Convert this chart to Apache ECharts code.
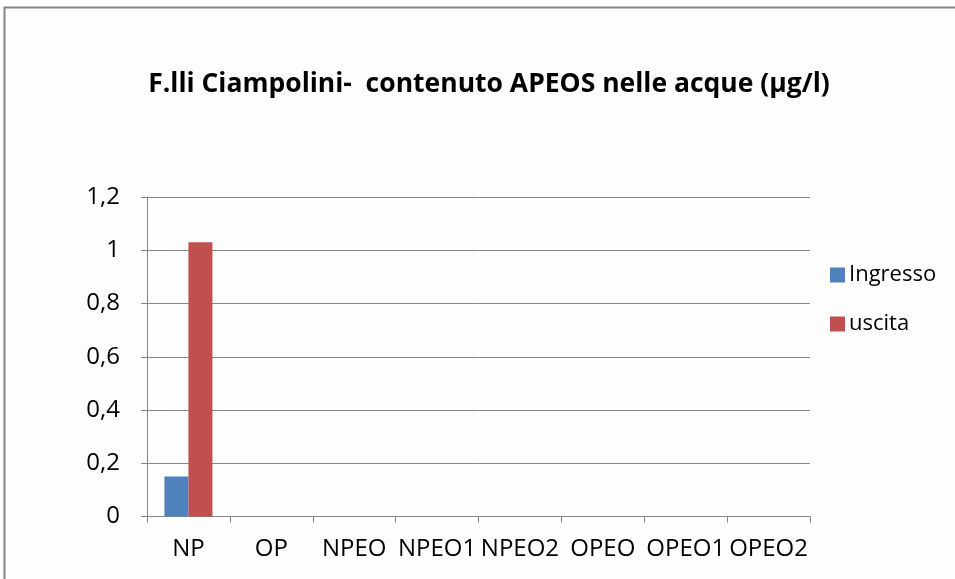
<!DOCTYPE html>
<html><head><meta charset="utf-8">
<script src="https://cdn.jsdelivr.net/npm/echarts@6/dist/echarts.min.js"></script>
<style>html,body{margin:0;padding:0;background:#fff}#c{width:955px;height:579px}</style>
</head><body><div id="c"></div>
<script>
const categories = ['NP','OP','NPEO','NPEO1','NPEO2','OPEO','OPEO1','OPEO2'];
const ingresso = [0.15, 0, 0, 0, 0, 0, 0, 0];
const uscita = [1.03, 0, 0, 0, 0, 0, 0, 0];
const yTicks = [0, 0.2, 0.4, 0.6, 0.8, 1, 1.2];

const chart = echarts.init(document.getElementById('c'));
const font = '"Open Sans", sans-serif';
chart.setOption({
  animation: false,
  backgroundColor: '#fdfdfd',
  textStyle: {fontFamily: font},
  title: {
    text: 'F.lli Ciampolini-  contenuto APEOS nelle acque (\u00b5g/l)',
    left: 484, top: 66, textAlign: 'center',
    textStyle: {fontFamily: font, fontSize: 26.5, fontWeight: 'bold', color: '#000'}
  },
  graphic: [{
    type: 'rect', shape: {x: 4.5, y: 7.5, width: 960, height: 590},
    style: {fill: 'none', stroke: '#868686', lineWidth: 2}, silent: true
  }],
  legend: {
    orient: 'vertical', left: 825, top: 259, itemGap: 27,
    itemWidth: 15, itemHeight: 15, icon: 'rect',
    textStyle: {fontFamily: font, fontSize: 22, color: '#000', padding: [0,0,0,-1]},
    data: ['Ingresso', 'uscita']
  },
  grid: {left: 147, top: 197, width: 663, height: 319.5, containLabel: false},
  xAxis: {
    type: 'category', data: categories,
    axisLine: {lineStyle: {color: '#868686'}},
    axisTick: {show: true, length: 6, lineStyle: {color: '#868686'}},
    axisLabel: {fontFamily: font, fontSize: 24, color: '#000', margin: 21, interval: 0}
  },
  yAxis: {
    type: 'value', min: 0, max: 1.2, interval: 0.2,
    axisLine: {show: true, lineStyle: {color: '#868686'}},
    axisTick: {show: true, length: 6, inside: false, lineStyle: {color: '#868686'}},
    splitLine: {lineStyle: {color: '#868686'}},
    axisLabel: {fontFamily: font, fontSize: 24, color: '#000', margin: 27,
      formatter: v => {const t = yTicks.find(x => Math.abs(x - v) < 1e-9); return (t === undefined ? v : t).toString().replace('.', ',');}}
  },
  series: [
    {name: 'Ingresso', type: 'bar', data: ingresso, barWidth: 24, barGap: '0%', itemStyle: {color: '#4f81bd'}},
    {name: 'uscita', type: 'bar', data: uscita, barWidth: 24, barGap: '0%', itemStyle: {color: '#c0504d'}}
  ]
});
</script></body></html>
